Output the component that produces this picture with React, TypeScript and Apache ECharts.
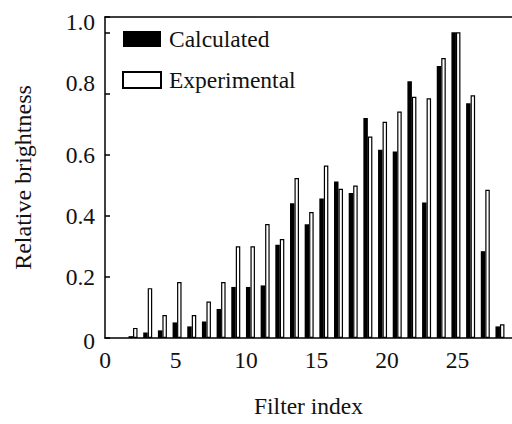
import React, { useEffect, useRef } from "react";
import * as echarts from "echarts";

const filterIndex = ["2","3","4","5","6","7","8","9","10","11","12","13","14","15","16","17","18","19","20","21","22","23","24","25","26","27"];
const calculated = [0.006, 0.018, 0.025, 0.051, 0.038, 0.054, 0.095, 0.167, 0.167, 0.172, 0.305, 0.441, 0.372, 0.456, 0.512, 0.474, 0.72, 0.616, 0.61, 0.84, 0.443, 0.89, 1.0, 0.768, 0.284, 0.038];
const experimental = [0.033, 0.163, 0.075, 0.183, 0.075, 0.119, 0.183, 0.3, 0.3, 0.373, 0.324, 0.523, 0.412, 0.564, 0.488, 0.499, 0.659, 0.707, 0.741, 0.789, 0.784, 0.916, 1.0, 0.794, 0.485, 0.045];
const yTicks = [0, 0.2, 0.4, 0.6, 0.8, 1.0];

const FONT = "serif";
const CSS = ".serif-chart svg text { font-family: 'Liberation Serif', 'Times New Roman', serif !important; }";

export default function App() {
  const ref = useRef<HTMLDivElement>(null);
  useEffect(() => {
    if (!ref.current) return;
    const chart = echarts.init(ref.current, null, { renderer: "svg" });
    const axisLine = { show: true, lineStyle: { color: "#000", width: 1.5 } };
    chart.setOption({
      animation: false,
      backgroundColor: "#fff",
      textStyle: { fontFamily: FONT },
      grid: [
        { left: 105, right: 0, top: 17, bottom: 86 },
        { left: 125.7, right: 4.7, top: 17, bottom: 86 },
      ],
      legend: {
        orient: "vertical",
        left: 122,
        top: 27,
        padding: 0,
        icon: "rect",
        itemWidth: 38,
        itemHeight: 16,
        itemGap: 17,
        textStyle: { fontFamily: FONT, fontSize: 23.5, color: "#111", padding: [0, 0, 0, 3] },
        data: ["Calculated", "Experimental"],
      },
      xAxis: [
        {
          type: "value",
          gridIndex: 0,
          min: 0,
          max: 28.86,
          interval: 5,
          position: "bottom",
          axisLine,
          axisTick: { show: false },
          splitLine: { show: false },
          axisLabel: { fontFamily: FONT, fontSize: 23.5, color: "#111", margin: 10, showMaxLabel: false },
          name: "Filter index",
          nameLocation: "middle",
          nameGap: 56,
          nameTextStyle: { fontFamily: FONT, fontSize: 23.5, color: "#111" },
        },
        {
          type: "value",
          gridIndex: 0,
          min: 0,
          max: 28.86,
          position: "top",
          axisLine,
          axisTick: { show: false },
          axisLabel: { show: false },
          splitLine: { show: false },
        },
        {
          type: "category",
          gridIndex: 1,
          data: filterIndex,
          show: false,
        },
      ],
      yAxis: [
        {
          type: "value",
          gridIndex: 0,
          min: 0,
          max: 1.05,
          interval: 0.2,
          axisLine,
          axisTick: { show: true, inside: true, length: 5, lineStyle: { color: "#000", width: 1.5 } },
          splitLine: { show: false },
          axisLabel: {
            fontFamily: FONT,
            fontSize: 23.5,
            color: "#111",
            margin: 10,
            formatter: (v: number) => {
              if (!yTicks.some((t) => Math.abs(t - v) < 1e-6)) return "";
              if (v === 0) return "{z|0}";
              if (v > 0.75) return "{u|" + v.toFixed(1) + "}";
              return v.toFixed(1);
            },
            rich: {
              u: { fontFamily: FONT, fontSize: 23.5, color: "#111", padding: [0, 0, 20, 0] },
              z: { fontFamily: FONT, fontSize: 23.5, color: "#111", padding: [5, 0, 0, 0] },
            },
          },
          name: "Relative brightness",
          nameLocation: "middle",
          nameRotate: 90,
          nameGap: 70,
          nameTextStyle: { fontFamily: FONT, fontSize: 24, color: "#111" },
        },
        {
          type: "value",
          gridIndex: 1,
          min: 0,
          max: 1.05,
          show: false,
          splitLine: { show: false },
        },
      ],
      series: [
        {
          name: "Calculated",
          type: "bar",
          xAxisIndex: 2,
          yAxisIndex: 1,
          data: calculated,
          barWidth: 4.5,
          barGap: "0%",
          itemStyle: { color: "#000" },
        },
        {
          name: "Experimental",
          type: "bar",
          xAxisIndex: 2,
          yAxisIndex: 1,
          data: experimental,
          barWidth: 4.5,
          barGap: "0%",
          itemStyle: { color: "#fff", borderColor: "#000", borderWidth: 1.2 },
        },
      ],
    });
    return () => chart.dispose();
  }, []);
  return (
    <>
      <style>{CSS}</style>
      <div
        ref={ref}
        className="serif-chart"
        style={{ position: "fixed", left: 0, top: 0, width: 512, height: 424 }}
      />
    </>
  );
}
